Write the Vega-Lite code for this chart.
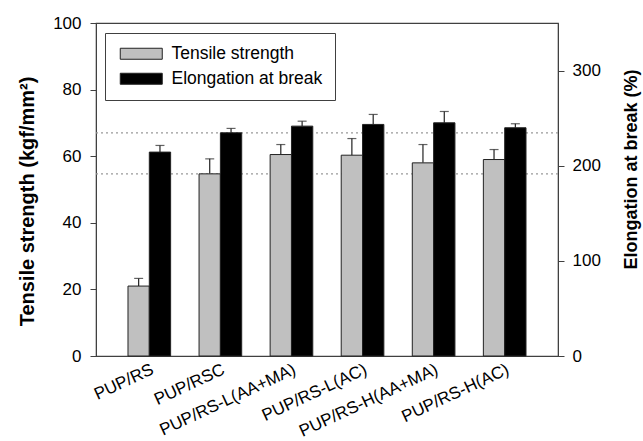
{
  "$schema": "https://vega.github.io/schema/vega-lite/v6.json",
  "width": 462,
  "height": 333,
  "autosize": "none",
  "padding": {"left": 96, "top": 23, "right": 85, "bottom": 85},
  "config": {
    "font": "Liberation Sans",
    "view": {"stroke": "#404040", "strokeWidth": 1.2},
    "axis": {"labelFont": "Liberation Sans", "titleFont": "Liberation Sans", "labelColor": "#000", "titleColor": "#000", "domainColor": "#404040", "tickColor": "#404040", "grid": false}
  },
  "data": {
    "values": [
      {"sample": "PUP/RS", "series": "Tensile strength", "value": 21.0, "upper": 23.3},
      {"sample": "PUP/RSC", "series": "Tensile strength", "value": 54.7, "upper": 59.2},
      {"sample": "PUP/RS-L(AA+MA)", "series": "Tensile strength", "value": 60.5, "upper": 63.5},
      {"sample": "PUP/RS-L(AC)", "series": "Tensile strength", "value": 60.3, "upper": 65.3},
      {"sample": "PUP/RS-H(AA+MA)", "series": "Tensile strength", "value": 58.0, "upper": 63.5},
      {"sample": "PUP/RS-H(AC)", "series": "Tensile strength", "value": 59.0, "upper": 62.0},
      {"sample": "PUP/RS", "series": "Elongation at break", "value": 214.3, "upper": 221.3},
      {"sample": "PUP/RSC", "series": "Elongation at break", "value": 234.6, "upper": 239.2},
      {"sample": "PUP/RS-L(AA+MA)", "series": "Elongation at break", "value": 241.6, "upper": 246.8},
      {"sample": "PUP/RS-L(AC)", "series": "Elongation at break", "value": 243.4, "upper": 253.9},
      {"sample": "PUP/RS-H(AA+MA)", "series": "Elongation at break", "value": 245.1, "upper": 257.0},
      {"sample": "PUP/RS-H(AC)", "series": "Elongation at break", "value": 239.9, "upper": 244.1}
    ]
  },
  "encoding": {
    "x": {
      "field": "sample", "type": "nominal", "sort": null,
      "scale": {"paddingInner": 0.4, "paddingOuter": 0.45},
      "axis": {"title": null, "labelAngle": -25, "labelAlign": "right", "labelBaseline": "top", "labelFontSize": 17, "ticks": false, "labelPadding": 5, "domain": false, "labelLimit": 400, "labelOverlap": false}
    }
  },
  "layer": [
    {
      "transform": [{"filter": "datum.series == 'Tensile strength'"}],
      "encoding": {
        "y": {"field": "value", "type": "quantitative", "scale": {"domain": [0, 100]},
          "axis": {"title": "Tensile strength (kgf/mm²)", "values": [0, 20, 40, 60, 80, 100], "labelFontSize": 17, "titleFontSize": 20, "titleFontWeight": "bold", "tickSize": 6, "labelPadding": 9, "titlePadding": 15, "titleY": 178}}
      },
      "layer": [
        {
          "transform": [{"filter": "datum.sample == 'PUP/RSC'"}],
          "mark": {"type": "rule", "color": "#999", "strokeDash": [2, 3], "strokeWidth": 1.2},
          "encoding": {"x": null}
        },
        {
          "mark": {"type": "rule", "color": "#222", "strokeWidth": 1.2},
          "encoding": {
            "xOffset": {"field": "series", "type": "nominal", "scale": {"domain": ["Tensile strength", "Elongation at break"]}},
            "y2": {"field": "upper"}
          }
        },
        {
          "mark": {"type": "tick", "color": "#222", "size": 9, "thickness": 1.2, "orient": "horizontal"},
          "encoding": {
            "xOffset": {"field": "series", "type": "nominal", "scale": {"domain": ["Tensile strength", "Elongation at break"]}},
            "y": {"field": "upper", "type": "quantitative"}
          }
        },
        {
          "mark": {"type": "bar", "stroke": "#222", "strokeWidth": 1},
          "encoding": {
            "xOffset": {"field": "series", "type": "nominal", "scale": {"domain": ["Tensile strength", "Elongation at break"]}},
            "color": {"field": "series", "type": "nominal",
              "scale": {"domain": ["Tensile strength", "Elongation at break"], "range": ["#c0c0c0", "#000000"]},
              "legend": {"title": null, "orient": "none", "legendX": 9, "legendY": 10, "strokeColor": "#404040", "padding": 12, "fillColor": "white",
                "symbolType": "M-1,-1H6.6364V1H-1Z", "symbolSize": 121, "symbolStrokeColor": "#222", "symbolStrokeWidth": 1, "symbolOpacity": 1,
                "labelFontSize": 17.5, "labelOffset": 37, "rowPadding": 6, "labelColor": "#000", "labelLimit": 300}}
          }
        }
      ]
    },
    {
      "transform": [{"filter": "datum.series == 'Elongation at break'"}],
      "encoding": {
        "y": {"field": "value", "type": "quantitative", "scale": {"domain": [0, 350]},
          "axis": {"orient": "right", "title": "Elongation at break (%)", "values": [0, 100, 200, 300], "labelFontSize": 17, "titleFontSize": 18, "titleFontWeight": "bold", "tickSize": 6, "labelPadding": 8, "titlePadding": 40, "titleAngle": 270, "titleY": 146}}
      },
      "layer": [
        {
          "transform": [{"filter": "datum.sample == 'PUP/RSC'"}],
          "mark": {"type": "rule", "color": "#999", "strokeDash": [2, 3], "strokeWidth": 1.2},
          "encoding": {"x": null}
        },
        {
          "mark": {"type": "rule", "color": "#222", "strokeWidth": 1.2},
          "encoding": {
            "xOffset": {"field": "series", "type": "nominal", "scale": {"domain": ["Tensile strength", "Elongation at break"]}},
            "y2": {"field": "upper"}
          }
        },
        {
          "mark": {"type": "tick", "color": "#222", "size": 9, "thickness": 1.2, "orient": "horizontal"},
          "encoding": {
            "xOffset": {"field": "series", "type": "nominal", "scale": {"domain": ["Tensile strength", "Elongation at break"]}},
            "y": {"field": "upper", "type": "quantitative"}
          }
        },
        {
          "mark": {"type": "bar", "stroke": "#222", "strokeWidth": 1},
          "encoding": {
            "xOffset": {"field": "series", "type": "nominal", "scale": {"domain": ["Tensile strength", "Elongation at break"]}},
            "color": {"field": "series", "type": "nominal"}
          }
        }
      ]
    }
  ],
  "resolve": {"scale": {"y": "independent"}}
}
